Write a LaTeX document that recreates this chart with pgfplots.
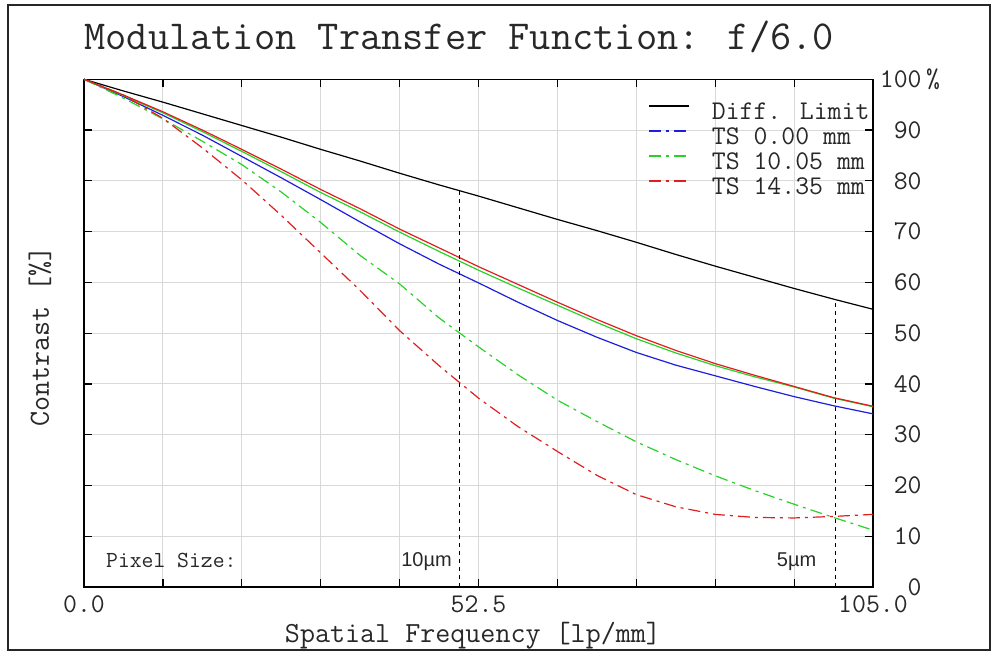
\documentclass[border=0pt]{standalone}
\usepackage{pgfplots}
\usepackage{pgfplotstable}
\pgfplotsset{compat=1.18}
\usepackage{fontspec}
\newfontfamily\sansf{Liberation Sans}
\definecolor{cBlue}{RGB}{30,30,220}
\definecolor{cGreen}{RGB}{40,210,40}
\definecolor{cRed}{RGB}{225,30,30}
\definecolor{txt}{RGB}{40,40,40}
\tikzset{dd/.style={dash pattern=on 6pt off 2.5pt on 1.5pt off 2.5pt}}

\pgfplotstableread{
x     diff  blue  green red   gdd   rdd
0     100   100   100   100   100   100
5.25  97.7  96.6  96.8  96.9  96.3  96.9
10.5  95.5  92.9  93.4  93.6  92.2  92.3
15.75 93.2  89.0  89.7  90.0  87.8  86.5
21    90.9  84.8  85.8  86.2  83.2  80.2
26.25 88.6  80.6  81.8  82.3  77.8  73.2
31.5  86.2  76.3  77.7  78.3  71.8  65.8
36.75 83.9  71.9  73.9  74.5  65.3  58.4
42    81.5  67.6  69.9  70.5  59.7  50.5
47.25 79.2  63.6  66.1  66.8  53.0  43.6
52.5  77.0  59.9  62.4  63.1  47.3  37.2
57.75 74.7  56.1  58.9  59.6  41.8  31.6
63    72.4  52.5  55.5  56.1  36.8  26.7
68.25 70.2  49.2  52.1  52.7  32.6  22.0
73.5  67.9  46.2  48.9  49.5  28.6  18.2
78.75 65.5  43.7  46.1  46.6  25.1  15.8
84    63.2  41.6  43.6  44.0  21.9  14.3
89.25 61.0  39.5  41.4  41.7  19.0  13.7
94.5  58.8  37.5  39.4  39.5  16.3  13.6
99.75 56.7  35.7  37.2  37.3  13.7  13.9
105   54.7  34.1  35.5  35.6  11.2  14.3
}\mtf

\begin{document}
\begin{tikzpicture}
\path (-42pt,-35.5pt) rectangle (456.5pt,293.5pt);
\draw[line width=1pt, black!85] (-38pt,-31.5pt) rectangle (453pt,291pt);
\begin{axis}[
  at={(0,0)}, anchor=south west,
  scale only axis, width=394.5pt, height=253.85pt,
  xmin=0, xmax=105, ymin=0, ymax=100,
  clip=false,
  xtick={0,10.5,21,31.5,42,52.5,63,73.5,84,94.5,105},
  xticklabels={0.0,,,,,52.5,,,,,105.0},
  ytick={0,10,20,30,40,50,60,70,80,90,100},
  yticklabels={0,10,20,30,40,50,60,70,80,90,{100\rlap{\,\%}}},
  tick align=inside, xtick pos=both, ytick pos=both,
  xticklabel pos=lower, yticklabel pos=right,
  major tick length=4pt,
  tick style={black, line width=0.6pt},
  grid=major, grid style={gray!30, line width=0.5pt},
  axis line style={black, line width=0.7pt},
  ticklabel style={font=\ttfamily\fontsize{13.5}{15}\selectfont, text=txt},
  yticklabel style={anchor=east, xshift=24.5pt, inner sep=0pt},
  xticklabel style={anchor=north, inner sep=0pt, yshift=-4pt},
  xlabel={Spatial Frequency [lp/mm]},
  ylabel={Contrast [\%]},
  label style={font=\ttfamily\fontsize{14.6}{17}\selectfont, text=txt},
  xlabel style={at={(axis description cs:0.493,-0.0955)}, anchor=center},
  ylabel style={at={(axis description cs:-0.0558,0.493)}, anchor=center},
  legend image code/.code={\draw[#1, line width=0.7pt] (0pt,3.8pt) -- (20pt,3.8pt);},
  legend cell align=left,
  legend style={at={(axis description cs:0.996,0.9545)}, anchor=north east,
    draw=none, fill=none, inner sep=0pt, row sep=1.5pt,
    font=\ttfamily\fontsize{13.5}{15}\selectfont, text=txt,
    nodes={inner sep=0pt, text height=8.5pt, text depth=2.5pt},
    /tikz/every odd column/.append style={column sep=11pt}},
]
\addplot[black, line width=0.6pt] table[x=x, y=diff] {\mtf};
\addlegendentry{Diff. Limit}
\addplot[cBlue, line width=0.6pt, forget plot] table[x=x, y=blue] {\mtf};
\addplot[cGreen, line width=0.6pt, forget plot] table[x=x, y=green] {\mtf};
\addplot[cRed, line width=0.6pt, forget plot] table[x=x, y=red] {\mtf};
\addplot[cGreen, dd, line width=0.6pt, forget plot] table[x=x, y=gdd] {\mtf};
\addplot[cRed, dd, line width=0.6pt, forget plot] table[x=x, y=rdd] {\mtf};
\addplot[black, dash pattern=on 2pt off 2pt, line width=0.6pt, forget plot] coordinates {(50,0) (50,78.1)};
\addplot[black, dash pattern=on 2pt off 2pt, line width=0.6pt, forget plot] coordinates {(100,0) (100,56.7)};
\addlegendimage{draw=cBlue, dd}
\addlegendentry{TS 0.00 mm}
\addlegendimage{draw=cGreen, dd}
\addlegendentry{TS 10.05 mm}
\addlegendimage{draw=cRed, dd}
\addlegendentry{TS 14.35 mm}
\node[anchor=west, inner sep=0pt, font=\ttfamily\fontsize{11.5}{13}\selectfont, text=txt] at (axis cs:2.9,5.3) {Pixel Size:};
\node[anchor=east, inner sep=0pt, font=\sansf\fontsize{10}{12}\selectfont, text=txt] at (axis cs:49.0,5.0) {10µm};
\node[anchor=east, inner sep=0pt, font=\sansf\fontsize{10}{12}\selectfont, text=txt] at (axis cs:97.5,5.0) {5µm};
\node[anchor=west, inner sep=0pt, yshift=21pt, font=\ttfamily\fontsize{20.6}{23}\selectfont, text=txt] at (axis description cs:0,1) {Modulation Transfer Function: f/6.0};
\end{axis}
\end{tikzpicture}
\end{document}
